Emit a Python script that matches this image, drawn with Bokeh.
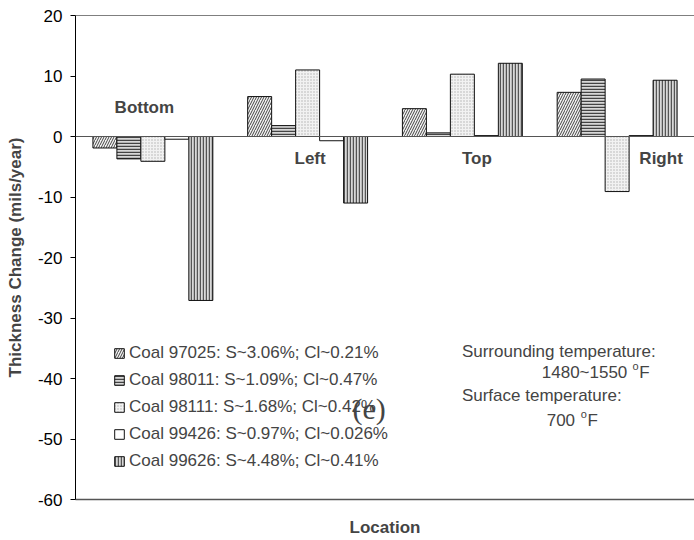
from bokeh.plotting import figure
from bokeh.models import Range1d, Span, Legend, LegendItem, Label, FixedTicker
from bokeh.embed import file_html
from bokeh.resources import INLINE

locations = ["Bottom", "Left", "Top", "Right"]
series_names = [
    "Coal 97025: S~3.06%; Cl~0.21%",
    "Coal 98011: S~1.09%; Cl~0.47%",
    "Coal 98111: S~1.68%; Cl~0.42%",
    "Coal 99426: S~0.97%; Cl~0.026%",
    "Coal 99626: S~4.48%; Cl~0.41%",
]
coal_97025 = [-1.9, 6.6, 4.6, 7.3]
coal_98011 = [-3.7, 1.8, 0.6, 9.5]
coal_98111 = [-4.1, 11.0, 10.3, -9.1]
coal_99426 = [-0.45, -0.7, 0.15, 0.15]
coal_99626 = [-27.1, -11.0, 12.1, 9.3]
y_ticks = [-60, -50, -40, -30, -20, -10, 0, 10, 20]

all_series = [coal_97025, coal_98011, coal_98111, coal_99426, coal_99626]
styles = [
    dict(fill_color="#f4f4f4", hatch_pattern="right_diagonal_line", hatch_color="#444444", hatch_scale=5, hatch_weight=1),
    dict(fill_color="#d8d8d8", hatch_pattern="horizontal_line", hatch_color="#444444", hatch_scale=3, hatch_weight=1.5),
    dict(fill_color="#f2f2f2", hatch_pattern="dot", hatch_color="#b0b0b0", hatch_scale=3, hatch_weight=1),
    dict(fill_color="#ffffff"),
    dict(fill_color="#d8d8d8", hatch_pattern="vertical_line", hatch_color="#555555", hatch_scale=3, hatch_weight=1.5),
]

FONT = "Liberation Sans"

p = figure(width=694, height=540, output_backend="svg", toolbar_location=None,
           x_range=Range1d(0, 4), y_range=Range1d(-60, 20),
           min_border_left=75, min_border_right=0, min_border_top=15, min_border_bottom=41)
p.outline_line_color = None
p.xgrid.visible = False
p.ygrid.visible = False
p.background_fill_color = "white"
p.border_fill_color = "white"

bar_w = 0.155
items = []
for i, (vals, st) in enumerate(zip(all_series, styles)):
    xs = [k + 0.5 + (i - 2) * bar_w for k in range(len(locations))]
    r = p.vbar(x=xs, top=vals, bottom=0, width=bar_w, line_color="#111111", line_width=1, **st)
    items.append(LegendItem(label=series_names[i], renderers=[r]))

# zero line
p.add_layout(Span(location=0, dimension="width", line_color="#555555", line_width=1))
# top border
p.add_layout(Span(location=20, dimension="width", line_color="#000000", line_width=1))

# y axis
p.yaxis.ticker = FixedTicker(ticks=y_ticks)
p.yaxis.major_label_overrides = {t: str(t) for t in y_ticks}
p.yaxis.axis_label = "Thickness Change (mils/year)"
p.yaxis.axis_label_text_font = FONT
p.yaxis.axis_label_text_font_style = "bold"
p.yaxis.axis_label_text_font_size = "17px"
p.yaxis.axis_label_standoff = 10
p.yaxis.major_label_text_font = FONT
p.yaxis.major_label_text_font_size = "17px"
p.yaxis.major_label_text_color = "#000000"
p.yaxis.major_tick_out = 5
p.yaxis.major_tick_in = 0
p.yaxis.minor_tick_line_color = None
p.yaxis.major_label_standoff = 8
p.yaxis.axis_line_color = "#000000"

# x axis
p.xaxis.ticker = FixedTicker(ticks=[])
p.xaxis.minor_tick_line_color = None
p.xaxis.major_tick_line_color = None
p.xaxis.axis_line_color = "#555555"
p.xaxis.axis_line_width = 1.5
p.xaxis.axis_label = "Location"
p.xaxis.axis_label_text_font = FONT
p.xaxis.axis_label_text_font_style = "bold"
p.xaxis.axis_label_text_font_size = "17px"
p.xaxis.axis_label_standoff = 18

# category labels
cat_pos = [(0.445, 4.8), (1.516, -3.6), (2.594, -3.6), (3.784, -3.6)]
for name, (cx, cy) in zip(locations, cat_pos):
    p.add_layout(Label(x=cx, y=cy, text=name, text_font=FONT, text_font_style="bold",
                       text_font_size="17px", text_align="center", text_baseline="middle"))

def txt(x, y, s, size="17px", font=FONT, align="left"):
    p.add_layout(Label(x=x, y=y, text=s, text_font=font, text_font_size=size,
                       text_align=align, text_baseline="middle"))

txt(2.497, -35.5, "Surrounding temperature:")
txt(3.013, -39.0, "1480~1550")
txt(3.60, -37.9, "o", size="11px")
txt(3.643, -39.0, "F")
txt(2.497, -42.8, "Surface temperature:")
txt(3.045, -46.9, "700")
txt(3.265, -45.8, "o", size="11px")
txt(3.308, -46.9, "F")
txt(1.897, -44.9, "(e)", size="30px", font="Liberation Serif", align="center")

legend = Legend(items=items, location=(38, 28), orientation="vertical",
                glyph_width=12, glyph_height=12, label_standoff=4, spacing=7,
                padding=0, margin=0, border_line_color=None, background_fill_alpha=0,
                label_text_font=FONT, label_text_font_size="17px", label_height=20)
p.add_layout(legend)

open("out.html", "w").write(file_html(p, INLINE))
